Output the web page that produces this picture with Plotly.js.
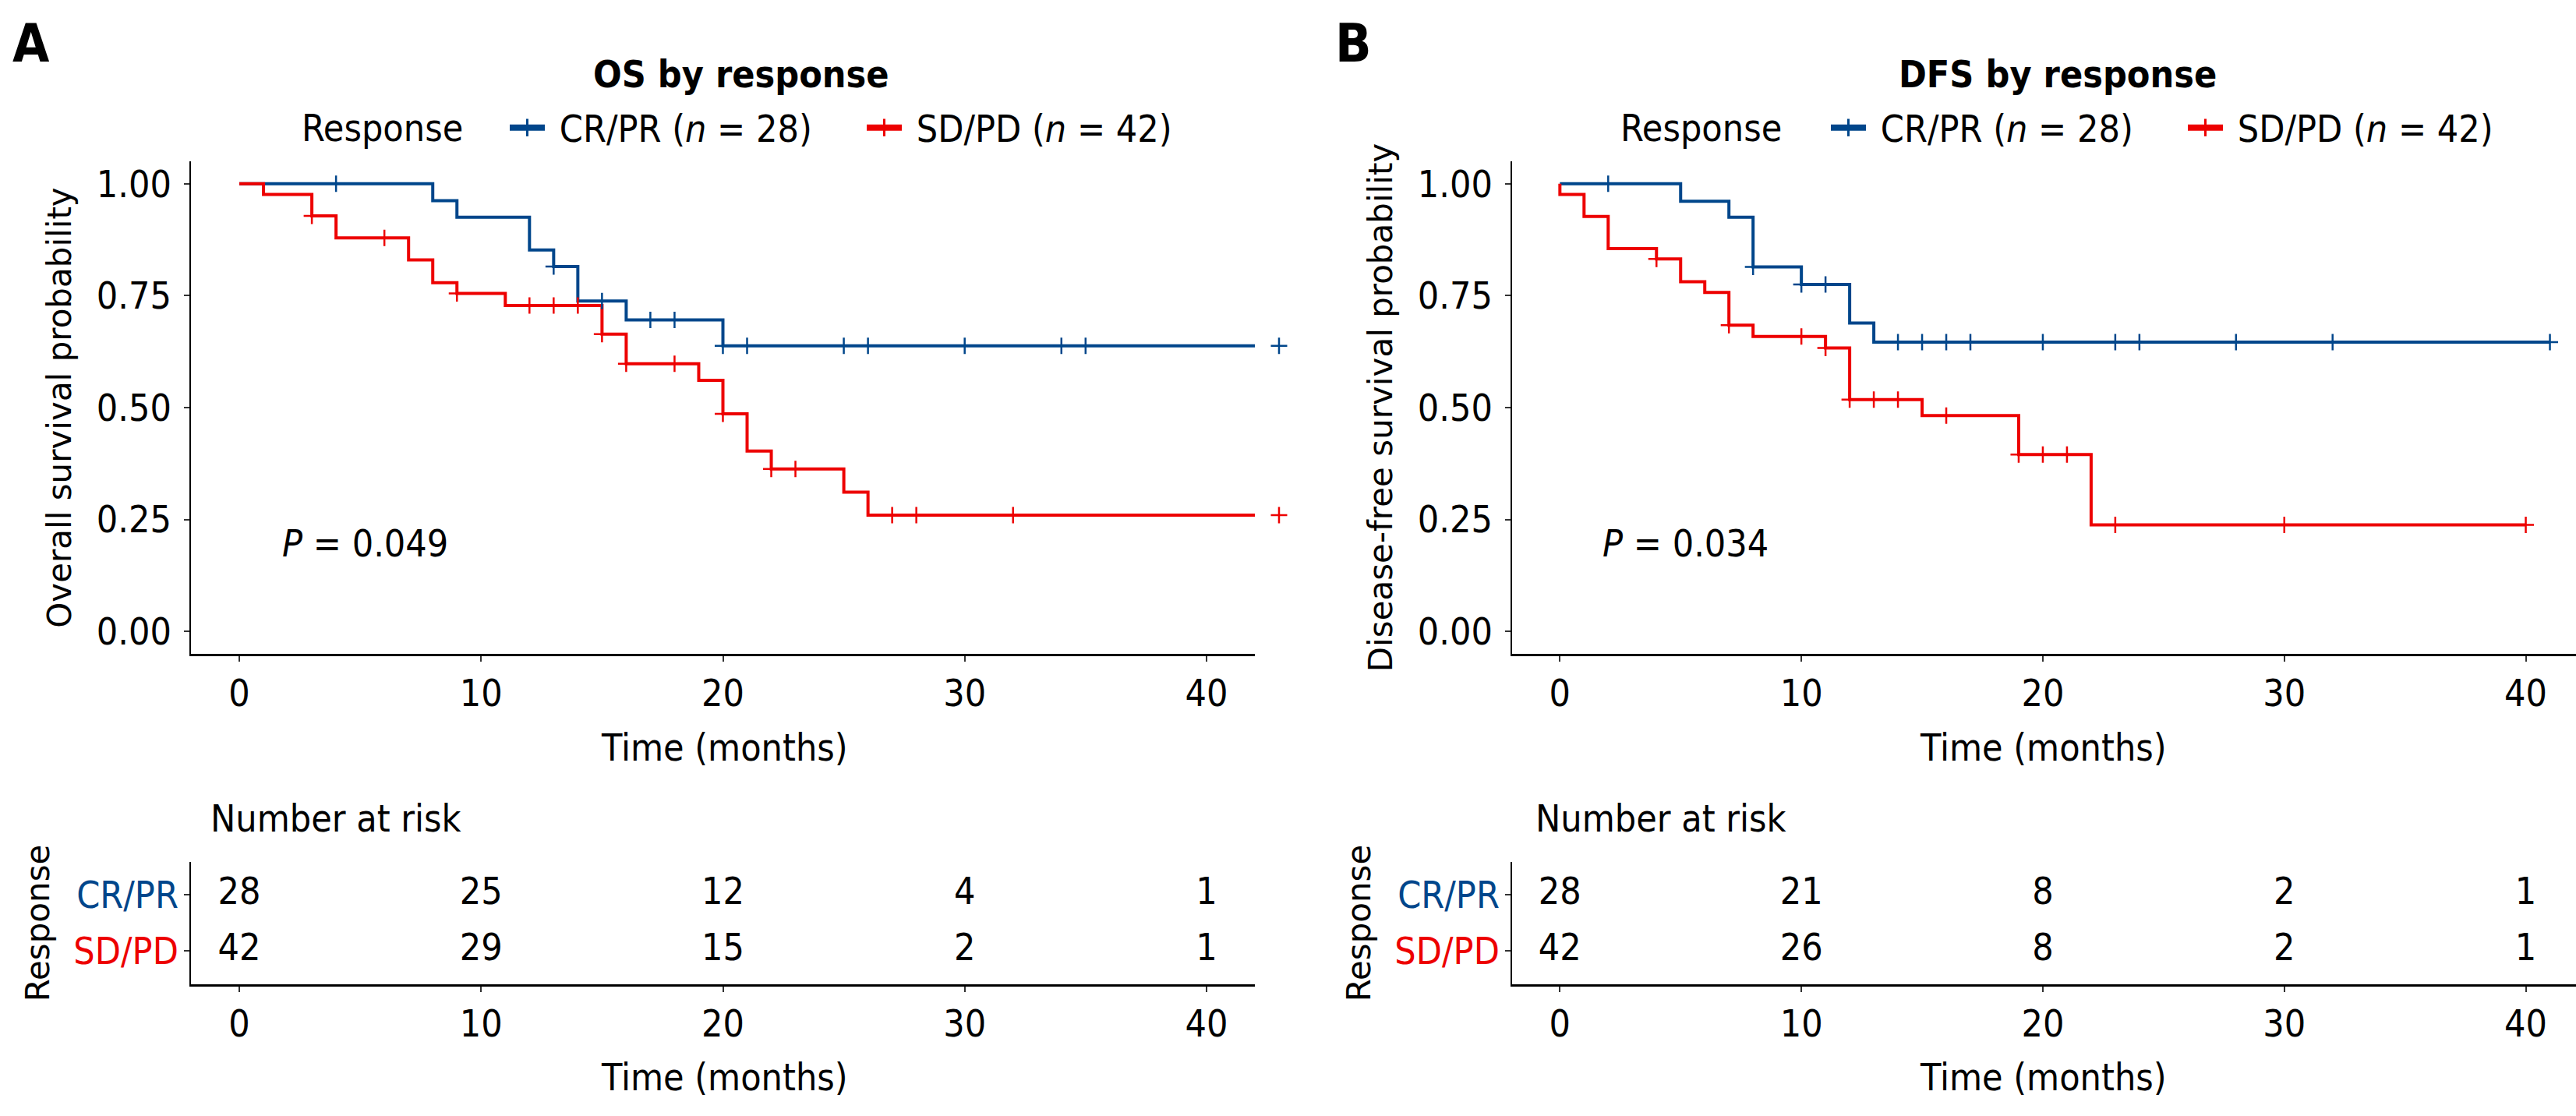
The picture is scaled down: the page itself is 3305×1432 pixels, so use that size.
<!DOCTYPE html>
<html>
<head>
<meta charset="utf-8">
<script src="https://cdn.plot.ly/plotly-3.0.1.min.js"></script>
<style>
html,body{margin:0;padding:0;background:#ffffff;}
#chart{width:3305px;height:1432px;}
</style>
</head>
<body>
<div id="chart"></div>
<script>
// ---------- DATA ----------
const groupLabels = ['CR/PR', 'SD/PD'];
const groupN = [28, 42];
const riskTimes = [0, 10, 20, 30, 40];
const survTicks = [0, 0.25, 0.5, 0.75, 1];

// Panel A: overall survival
const osCrTime   = [0, 8, 9, 12, 13, 14, 16, 20];
const osCrSurv   = [1.000, 0.962, 0.925, 0.852, 0.815, 0.738, 0.696, 0.638];
const osCrEnd    = 43;
const osCrCensor = [4, 13, 15, 17, 18, 20, 21, 25, 26, 30, 34, 35, 43];

const osSdTime   = [0, 1, 3, 4, 7, 8, 9, 11, 15, 16, 19, 20, 21, 22, 25, 26];
const osSdSurv   = [1.000, 0.976, 0.928, 0.879, 0.830, 0.779, 0.755, 0.728, 0.664, 0.598, 0.561, 0.486, 0.403, 0.363, 0.311, 0.260];
const osSdEnd    = 43;
const osSdCensor = [3, 6, 9, 12, 13, 14, 15, 16, 18, 20, 22, 23, 27, 28, 32, 43];

const osRiskCr = [28, 25, 12, 4, 1];
const osRiskSd = [42, 29, 15, 2, 1];
const osPValue = '0.049';

// Panel B: disease-free survival
const dfsCrTime   = [0, 5, 7, 8, 10, 12, 13];
const dfsCrSurv   = [1.000, 0.961, 0.925, 0.814, 0.775, 0.689, 0.646];
const dfsCrEnd    = 41;
const dfsCrCensor = [2, 8, 10, 11, 14, 15, 16, 17, 20, 23, 24, 28, 32, 41];

const dfsSdTime   = [0, 0, 1, 2, 4, 5, 6, 7, 8, 11, 12, 15, 19, 22];
const dfsSdSurv   = [1.000, 0.976, 0.927, 0.855, 0.832, 0.781, 0.757, 0.684, 0.659, 0.633, 0.518, 0.482, 0.395, 0.238];
const dfsSdEnd    = 40;
const dfsSdCensor = [4, 7, 10, 11, 12, 13, 14, 16, 19, 20, 21, 23, 30, 40];

const dfsRiskCr = [28, 21, 8, 2, 1];
const dfsRiskSd = [42, 26, 8, 2, 1];
const dfsPValue = '0.034';

// ---------- STYLE ----------
const W = 3305, H = 1432;
const BLUE = '#00468B', RED = '#ED0000';
const NARROW = '"DejaVu Sans Condensed", "Liberation Sans Narrow", "Liberation Sans", sans-serif';
const WIDE = '"DejaVu Sans", Verdana, sans-serif';
const fNarrow = {family: NARROW, size: 48, color: '#000000'};
const fWide = {family: WIDE, size: 42, color: '#000000'};

function px(v) { return v / W; }
function py(v) { return 1 - v / H; }

function survAt(times, surv, t) {
  let v = surv[0];
  for (let i = 0; i < times.length; i++) { if (times[i] <= t) v = surv[i]; }
  return v;
}
function lineTrace(times, surv, end, color, xa, ya) {
  return {type: 'scatter', mode: 'lines', xaxis: xa, yaxis: ya,
    x: times.concat([end]), y: surv.concat([surv[surv.length - 1]]),
    line: {shape: 'hv', color: color, width: 4}, showlegend: false, hoverinfo: 'skip'};
}
function censorTrace(times, surv, censor, color, xa, ya) {
  return {type: 'scatter', mode: 'markers', xaxis: xa, yaxis: ya, cliponaxis: false,
    x: censor, y: censor.map(t => survAt(times, surv, t)),
    marker: {symbol: 'cross-thin', size: 15, color: color, line: {color: color, width: 2.5}},
    showlegend: false, hoverinfo: 'skip'};
}
function legendTrace(i, color, xa, ya, legendId) {
  return {type: 'scatter', mode: 'lines+markers', xaxis: xa, yaxis: ya, x: [null], y: [null],
    name: '&nbsp;' + groupLabels[i] + ' (<i>n</i> = ' + groupN[i] + ')',
    line: {color: color, width: 8},
    marker: {symbol: 'line-ns', size: 20, color: color, line: {color: color, width: 3}},
    legend: legendId, showlegend: true, hoverinfo: 'skip'};
}
function riskTrace(vals, row, xa, ya) {
  return {type: 'scatter', mode: 'text', xaxis: xa, yaxis: ya,
    x: riskTimes, y: riskTimes.map(() => row), text: vals.map(String),
    textposition: 'middle center', textfont: fNarrow, cliponaxis: false,
    showlegend: false, hoverinfo: 'skip'};
}

const traces = [
  lineTrace(osCrTime, osCrSurv, osCrEnd, BLUE, 'x', 'y'),
  lineTrace(osSdTime, osSdSurv, osSdEnd, RED, 'x', 'y'),
  censorTrace(osCrTime, osCrSurv, osCrCensor, BLUE, 'x5', 'y5'),
  censorTrace(osSdTime, osSdSurv, osSdCensor, RED, 'x5', 'y5'),
  lineTrace(dfsCrTime, dfsCrSurv, dfsCrEnd, BLUE, 'x3', 'y3'),
  censorTrace(dfsCrTime, dfsCrSurv, dfsCrCensor, BLUE, 'x3', 'y3'),
  lineTrace(dfsSdTime, dfsSdSurv, dfsSdEnd, RED, 'x3', 'y3'),
  censorTrace(dfsSdTime, dfsSdSurv, dfsSdCensor, RED, 'x3', 'y3'),
  legendTrace(0, BLUE, 'x', 'y', 'legend'), legendTrace(1, RED, 'x', 'y', 'legend'),
  legendTrace(0, BLUE, 'x3', 'y3', 'legend2'), legendTrace(1, RED, 'x3', 'y3', 'legend2'),
  riskTrace(osRiskCr, 2, 'x2', 'y2'), riskTrace(osRiskSd, 1, 'x2', 'y2'),
  riskTrace(dfsRiskCr, 2, 'x4', 'y4'), riskTrace(dfsRiskSd, 1, 'x4', 'y4')
];

// ---------- AXES ----------
const xDomA = [px(245), px(1610)];
const xDomAwide = [px(245), px(1672)];   // same scale as panel A, reaching 44 months so the censor mark at 43 shows past the axis end
const xDomB = [px(1940), 1];
const yDomMain = [py(839), py(207)];
const yDomRisk = [py(1263), py(1106)];
const xRangeA = [-2, 42];
const xRangeAwide = [-2, 44];
const xRangeB = [-1.98, 42.08];
const yRangeMain = [-0.05, 1.05];

function baseAxis() {
  return {showgrid: false, zeroline: false, showline: true, linecolor: '#000000', linewidth: 2.5,
    ticks: 'outside', ticklen: 7, tickwidth: 2, tickcolor: '#333333', tickfont: fNarrow, fixedrange: true};
}
function xAxis(domain, range, anchor) {
  return Object.assign(baseAxis(), {domain: domain, range: range, anchor: anchor,
    tickmode: 'array', tickvals: riskTimes, ticktext: riskTimes.map(String), ticklabelstandoff: 0});
}
function yMain(domain, anchor, title) {
  return Object.assign(baseAxis(), {domain: domain, range: yRangeMain, anchor: anchor,
    tickmode: 'array', tickvals: survTicks, ticktext: survTicks.map(v => v.toFixed(2)),
    ticklabelstandoff: 6, title: {text: title, font: fWide, standoff: 19}});
}
function yRisk(domain, anchor) {
  return Object.assign(baseAxis(), {domain: domain, range: [0.41, 2.58], anchor: anchor,
    tickmode: 'array', tickvals: [2, 1],
    ticktext: ['<span style="color:' + BLUE + '">' + groupLabels[0] + '</span>',
               '<span style="color:' + RED + '">' + groupLabels[1] + '</span>'],
    ticklabelstandoff: -3, title: {text: 'Response', font: fWide, standoff: 18}});
}
function legendCfg(xLeft) {
  return {orientation: 'h', x: px(xLeft), xanchor: 'left', y: py(164), yanchor: 'middle',
    font: fNarrow, bgcolor: 'rgba(0,0,0,0)', itemwidth: 45,
    entrywidth: 398, entrywidthmode: 'pixels', tracegroupgap: 0, itemclick: false, itemdoubleclick: false};
}
function note(x, y, text, font, anchor) {
  return {xref: 'paper', yref: 'paper', x: px(x), y: py(y), xanchor: anchor || 'left', yanchor: 'middle',
    text: text, showarrow: false, font: font};
}
const fLetter = {family: NARROW, size: 68, color: '#000'};
const annotations = [
  note(14, 55, '<b>A</b>', fLetter), note(1711, 55, '<b>B</b>', fLetter),
  note(951, 95, '<b>OS by response</b>', fNarrow, 'center'),
  note(2640, 95, '<b>DFS by response</b>', fNarrow, 'center'),
  note(385, 164, 'Response', fNarrow), note(2077, 164, 'Response', fNarrow),
  note(930, 959, 'Time (months)', fNarrow, 'center'), note(930, 1382, 'Time (months)', fNarrow, 'center'),
  note(2621, 959, 'Time (months)', fNarrow, 'center'), note(2621, 1382, 'Time (months)', fNarrow, 'center'),
  note(268, 1050, 'Number at risk', fNarrow), note(1968, 1050, 'Number at risk', fNarrow),
  {xref: 'x', yref: 'y', x: 5.2, y: 0.197, xanchor: 'center', yanchor: 'middle',
   text: '<i>P</i> = ' + osPValue, showarrow: false, font: fNarrow},
  {xref: 'x3', yref: 'y3', x: 5.2, y: 0.197, xanchor: 'center', yanchor: 'middle',
   text: '<i>P</i> = ' + dfsPValue, showarrow: false, font: fNarrow}
];

const layout = {
  width: W, height: H, margin: {l: 0, r: 0, t: 0, b: 0, autoexpand: false},
  paper_bgcolor: '#ffffff', plot_bgcolor: 'rgba(0,0,0,0)', font: fNarrow,
  xaxis: xAxis(xDomA, xRangeA, 'y'), yaxis: yMain(yDomMain, 'x', 'Overall survival probability'),
  xaxis2: xAxis(xDomA, xRangeA, 'y2'), yaxis2: yRisk(yDomRisk, 'x2'),
  xaxis3: xAxis(xDomB, xRangeB, 'y3'), yaxis3: yMain(yDomMain, 'x3', 'Disease-free survival probability'),
  xaxis4: xAxis(xDomB, xRangeB, 'y4'), yaxis4: yRisk(yDomRisk, 'x4'),
  xaxis5: {domain: xDomAwide, range: xRangeAwide, anchor: 'y5', visible: false, fixedrange: true},
  yaxis5: {domain: yDomMain, range: yRangeMain, anchor: 'x5', visible: false, fixedrange: true},
  legend: legendCfg(649), legend2: legendCfg(2344),
  annotations: annotations, showlegend: true
};
Plotly.newPlot('chart', traces, layout, {staticPlot: true, displayModeBar: false});
</script>
</body>
</html>
